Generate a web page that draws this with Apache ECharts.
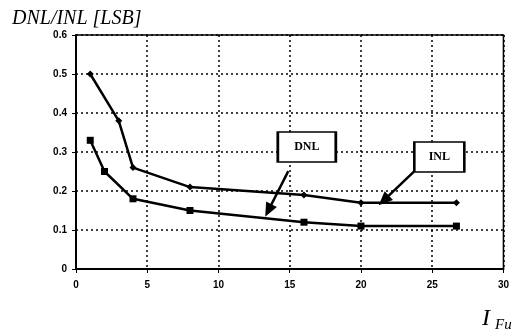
<!DOCTYPE html>
<html><head><meta charset="utf-8">
<script src="https://cdn.jsdelivr.net/npm/echarts@6/dist/echarts.min.js"></script>
<style>html,body{margin:0;padding:0;background:#fff}#c{width:512px;height:334px}</style>
</head><body><div id="c"></div>
<script>
const current = [1, 3, 4, 8, 16, 20, 26.7];
const currentDnl = [1, 2, 4, 8, 16, 20, 26.7];
const inl = [0.50, 0.38, 0.26, 0.21, 0.19, 0.17, 0.17];
const dnl = [0.33, 0.25, 0.18, 0.15, 0.12, 0.11, 0.11];
const xTicks = [0, 5, 10, 15, 20, 25, 30];
const yTicks = [0, 0.1, 0.2, 0.3, 0.4, 0.5, 0.6];
// annotations (data coordinates)
const labelBoxes = [{name: 'DNL', at: [16.2, 0.313]}, {name: 'INL', at: [25.5, 0.287]}];
const arrows = [
  {from: [14.9, 0.251], to: [13.5, 0.150]},
  {from: [23.7, 0.249], to: [21.6, 0.176]}
];

const chart = echarts.init(document.getElementById('c'), null, {renderer: 'canvas'});
const tickFont = {fontFamily: 'Liberation Sans, Arial', fontSize: 10, color: '#000', fontWeight: 'bold'};
chart.setOption({
  animation: false,
  backgroundColor: '#fff',
  grid: {left: 76, right: 5, top: 35, bottom: 65, show: true, borderColor: '#000', borderWidth: 1.5},
  xAxis: {
    type: 'value', min: xTicks[0], max: xTicks[xTicks.length - 1], interval: 5,
    axisLine: {lineStyle: {color: '#000', width: 2}},
    axisTick: {show: true, length: 4, lineStyle: {color: '#000'}},
    axisLabel: Object.assign({margin: 11}, tickFont),
    splitLine: {show: true, lineStyle: {color: '#000', type: [2, 3], width: 1.5}}
  },
  yAxis: {
    type: 'value', min: yTicks[0], max: yTicks[yTicks.length - 1], interval: 0.1,
    axisLine: {show: true, lineStyle: {color: '#000', width: 2}},
    axisTick: {show: true, length: 4, lineStyle: {color: '#000'}},
    axisLabel: Object.assign({margin: 9, formatter: v => String(Math.round(v * 10) / 10)}, tickFont),
    splitLine: {show: true, lineStyle: {color: '#000', type: [2, 3], width: 1.5}}
  },
  series: [
    {
      name: 'INL', type: 'line', data: current.map((x, i) => [x, inl[i]]),
      symbol: 'diamond', symbolSize: 7, showSymbol: true,
      lineStyle: {color: '#000', width: 2.5}, itemStyle: {color: '#000'},
      markPoint: {
        symbol: 'rect',
        data: labelBoxes.map(b => ({coord: b.at, name: b.name, symbolSize: [b.name === 'DNL' ? 58 : 50, 30]})),
        itemStyle: {color: '#fff', borderColor: '#000', borderWidth: 2},
        label: {show: true, position: 'inside', formatter: p => p.name, color: '#000',
                fontFamily: 'Liberation Serif, Times New Roman', fontWeight: 'bold', fontSize: 12}
      },
      markLine: {
        silent: true, symbol: ['none', 'triangle'], symbolSize: [12, 14],
        lineStyle: {color: '#000', width: 2.5, type: 'solid'},
        label: {show: false},
        data: arrows.map(a => [{coord: a.from}, {coord: a.to}])
      }
    },
    {
      name: 'DNL', type: 'line', data: currentDnl.map((x, i) => [x, dnl[i]]),
      symbol: 'rect', symbolSize: 7, showSymbol: true,
      lineStyle: {color: '#000', width: 2.5}, itemStyle: {color: '#000'}
    }
  ],
  graphic: [
    {type: 'text', left: 12, top: 9, style: {text: 'DNL/INL [LSB]', font: 'italic 20px "Liberation Serif", "Times New Roman", serif', fill: '#000'}},
    {type: 'text', left: 482, top: 307, style: {text: 'I', font: 'italic 24px "Liberation Serif", serif', fill: '#000'}},
    {type: 'text', left: 495, top: 318, style: {text: 'Full', font: 'italic 15px "Liberation Serif", serif', fill: '#000'}}
  ]
});
</script></body></html>
